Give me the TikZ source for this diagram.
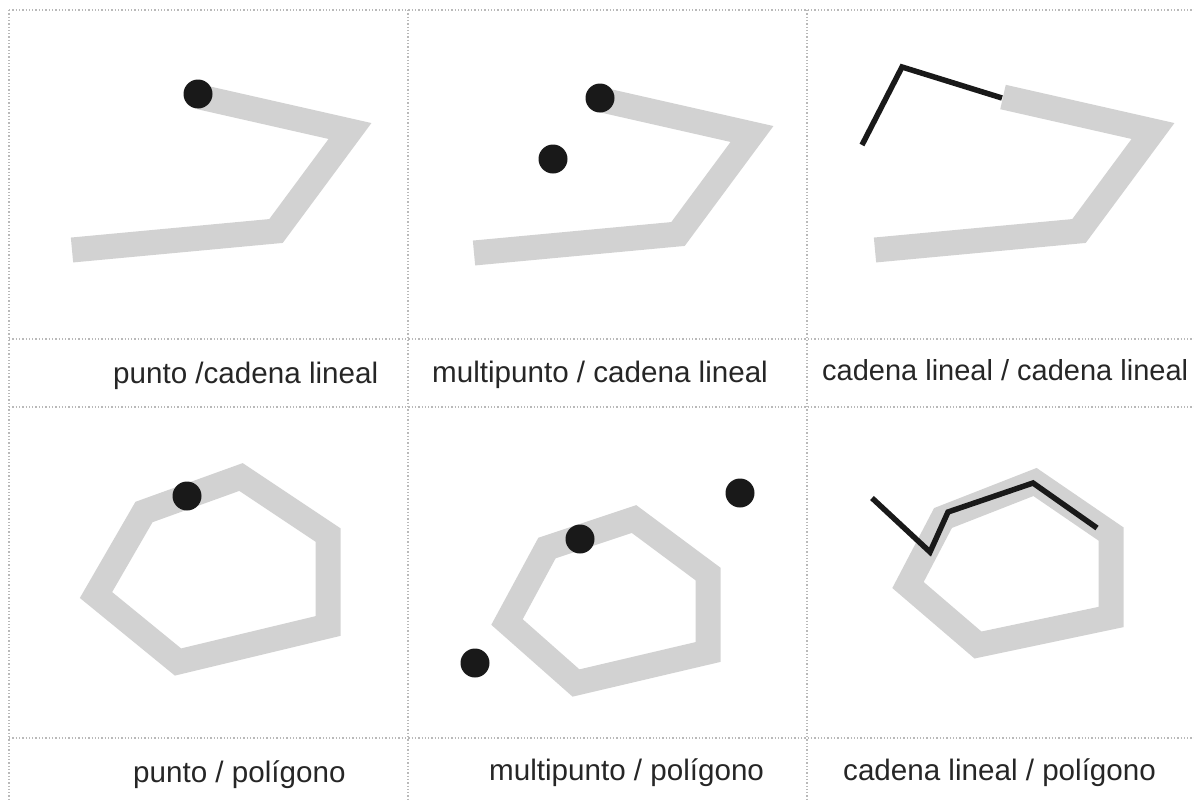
\documentclass[tikz,border=0pt]{standalone}
\usepackage{fontspec}
\setmainfont{Liberation Sans}
\usetikzlibrary{positioning}

\tikzset{
  gridline/.style={gray!55, line width=1.3pt, dotted},
  band/.style={gray!35, line width=25pt, line join=miter},
  chain/.style={black!90, line width=5.5pt, line join=miter},
  caption/.style={font=\fontsize{29.6}{34}\selectfont, text=black!85, anchor=base west, inner sep=0pt}
}

\begin{document}
\begin{tikzpicture}[x=1pt, y=-1pt]
\useasboundingbox (0,0) rectangle (1194,801);
\clip (0,0) rectangle (1194,801);

% Grid
\foreach \gx in {9, 408, 807}
  \draw[gridline] (\gx, 10) -- (\gx, 801);
\foreach \gy in {10, 339, 407, 738}
  \draw[gridline] (9, \gy) -- (1194, \gy);

% Top row: cadena lineal (gray)
\draw[band] (200, 97) -- (350, 131) -- (276, 231) -- (72, 250);
\draw[band] (602, 100) -- (752, 134) -- (678, 234) -- (474, 253);
\draw[band] (1003, 97) -- (1153, 131) -- (1079, 231) -- (875, 250);

% Top row: features
\fill[black!90] (198, 94) circle (14.5);
\fill[black!90] (600, 98) circle (14.5);
\fill[black!90] (553, 159) circle (14.5);
\draw[chain] (862, 145) -- (902, 67) -- (1002, 98);

% Bottom row: poligono (gray)
\draw[band] (96, 595) -- (144, 512) -- (241, 477) -- (328, 535) -- (328, 626) -- (178, 662) -- cycle;
\draw[band] (507, 622) -- (547, 548) -- (634, 519) -- (708, 574) -- (708, 652) -- (576, 683) -- cycle;
\draw[band] (908, 585) -- (943, 518) -- (1035, 482) -- (1111, 534) -- (1111, 617) -- (978, 645) -- cycle;

% Bottom row: features
\fill[black!90] (187, 496) circle (14.5);
\fill[black!90] (580, 539) circle (14.5);
\fill[black!90] (740, 493) circle (14.5);
\fill[black!90] (475, 663) circle (14.5);
\draw[chain] (872, 498) -- (930, 552) -- (948, 512) -- (1033, 483) -- (1097, 528);

% Captions
\node[caption] (c1) at (113, 383) {punto /cadena lineal};
\node[caption] (c2) at (432, 382) {multipunto / cadena lineal};
\node[caption, font=\fontsize{29}{34}\selectfont] (c3) at (822, 380) {cadena lineal / cadena lineal};
\node[caption] (c4) at (133, 782) {punto / polígono};
\node[caption] (c5) at (489, 780) {multipunto / polígono};
\node[caption] (c6) at (843, 780) {cadena lineal / polígono};
\end{tikzpicture}
\end{document}
